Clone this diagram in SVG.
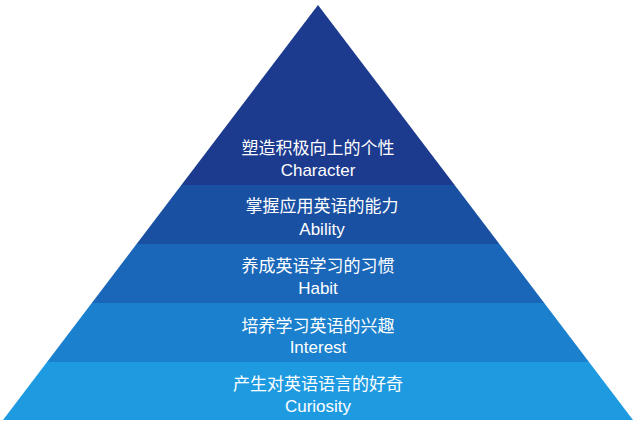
<svg xmlns="http://www.w3.org/2000/svg" width="640" height="442" viewBox="0 0 640 442">
<style>
text{fill:#fff;text-anchor:middle;font-family:"Liberation Sans","Noto Sans CJK SC",sans-serif;font-size:17px}
</style>
<defs><clipPath id="tri"><polygon points="318,5 633,420 3,420"/></clipPath></defs>
<rect width="640" height="442" fill="#fff"/>
<g clip-path="url(#tri)">
<g id="character"><rect x="0" y="0" width="640" height="185" fill="#1c3a8e"/></g>
<g id="ability"><rect x="0" y="185" width="640" height="59" fill="#1a50a2"/></g>
<g id="habit"><rect x="0" y="244" width="640" height="59" fill="#1a67b9"/></g>
<g id="interest"><rect x="0" y="303" width="640" height="59" fill="#1b80cd"/></g>
<g id="curiosity"><rect x="0" y="362" width="640" height="58" fill="#1e9be0"/></g>
</g>
<g id="labels">
<text x="318" y="154">塑造积极向上的个性</text><text x="318" y="176">Character</text>
<text x="322" y="212">掌握应用英语的能力</text><text x="322" y="235">Ability</text>
<text x="318" y="272">养成英语学习的习惯</text><text x="318" y="294">Habit</text>
<text x="318" y="332">培养学习英语的兴趣</text><text x="318" y="353">Interest</text>
<text x="318" y="390">产生对英语语言的好奇</text><text x="318" y="412">Curiosity</text>
</g>
<g id="connectors"/>
</svg>
